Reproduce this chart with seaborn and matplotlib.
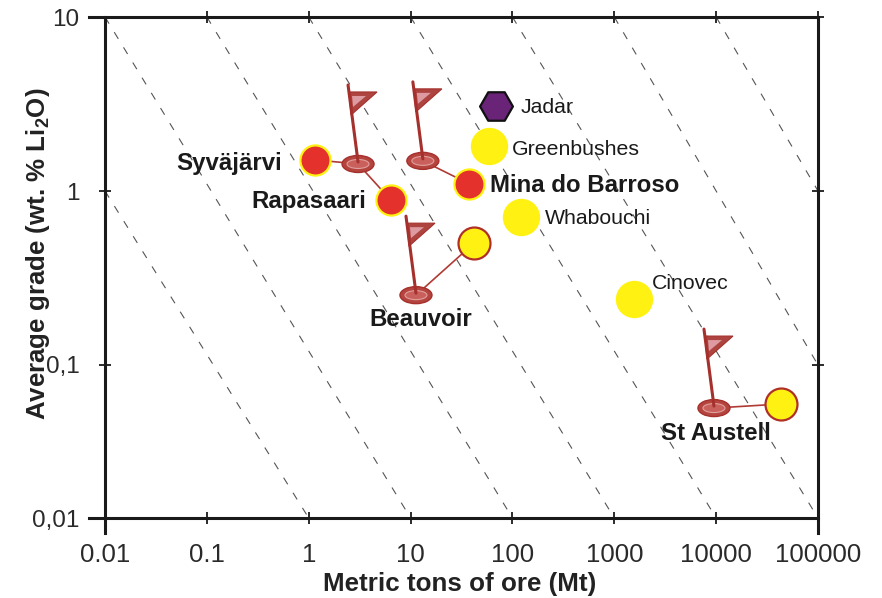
import numpy as np
import pandas as pd
import matplotlib
matplotlib.use('Agg')
import matplotlib.pyplot as plt
from matplotlib.patches import Ellipse, Polygon
from matplotlib.transforms import Affine2D, ScaledTranslation
import seaborn as sns

sns.set_style('white')
plt.rcParams['font.family'] = ['Liberation Sans', 'DejaVu Sans']
plt.rcParams['mathtext.fontset'] = 'custom'
plt.rcParams['mathtext.bf'] = 'Liberation Sans:bold'

# deposits
names = ['Jadar', 'Greenbushes', 'Whabouchi', 'Cinovec', 'Syväjärvi', 'Rapasaari',
         'Mina do Barroso', 'Beauvoir', 'St Austell']
tons = [69, 59, 121, 1560, 1.15, 6.4, 37.5, 42, 43300]
grade = [3.08, 1.81, 0.709, 0.239, 1.51, 0.887, 1.10, 0.502, 0.0556]
kind = ['hex', 'yellow', 'yellow', 'yellow', 'red', 'red', 'red', 'ringed', 'ringed']

# flags: base position and which deposits it points at
flag_tons = [3.05, 13.2, 11.3, 9520]
flag_grade = [1.43, 1.49, 0.252, 0.0523]
flag_links = [['Syväjärvi', 'Rapasaari'], ['Mina do Barroso'], ['Beauvoir'], ['St Austell']]

# dashed lines of equal metal content
guide_x0 = [0.01, 0.01, 0.1, 1, 10, 100, 1000, 10000]
guide_y0 = [1, 10, 10, 10, 10, 10, 10, 10]
guide_x1 = [1, 10, 100, 1000, 10000, 100000, 100000, 100000]
guide_y1 = [0.01, 0.01, 0.01, 0.01, 0.01, 0.01, 0.1, 1]

xticks = [0.01, 0.1, 1, 10, 100, 1000, 10000, 100000]
xticklabels = ['0.01', '0.1', '1', '10', '100', '1000', '10000', '100000']
yticks = [0.01, 0.1, 1, 10]
yticklabels = ['0,01', '0,1', '1', '10']

df = pd.DataFrame({'name': names, 'tons': tons, 'grade': grade, 'kind': kind})
guides = pd.DataFrame({
    'x': guide_x0 + guide_x1,
    'y': guide_y0 + guide_y1,
    'line': list(range(len(guide_x0))) * 2,
})

# the lowest decade of the y axis is drawn shorter than the others in the original
low_k = 153 / 174


def y_fwd(y):
    t = np.log10(np.maximum(y, 1e-12))
    return np.where(t < -1, -1 + (t + 1) * low_k, t)


def y_inv(v):
    v = np.asarray(v, dtype=float)
    return np.where(v < -1, 10 ** (-1 + (v + 1) / low_k), 10 ** v)


fig = plt.figure(figsize=(8.82, 5.98), dpi=100)
ax = fig.add_axes([105 / 882, 1 - 518 / 598, 713 / 882, 501 / 598])
ax.set_xscale('log')
ax.set_yscale('function', functions=(y_fwd, y_inv))
ax.set_xlim(0.01, 100000)
ax.set_ylim(0.01, 10)

sns.lineplot(data=guides, x='x', y='y', units='line', estimator=None, color='#555555',
             lw=0.8, ax=ax, legend=False, zorder=1, sort=False)
for ln in ax.lines:
    ln.set_dashes((7, 9))


def px(x, y):
    # shape offsets are in screen pixels (y down) from a data anchor
    return Affine2D().scale(1, -1) + ScaledTranslation(x, y, ax.transData)


dark = '#a5302c'
by_name = df.set_index('name')
for fx, fy, links in zip(flag_tons, flag_grade, flag_links):
    for link in links:
        ax.plot([fx, by_name.loc[link, 'tons']], [fy, by_name.loc[link, 'grade']],
                color='#b03a34', lw=1.2, zorder=3)
    t = px(fx, fy)
    ax.add_patch(Ellipse((0, 0), 32, 17, transform=t, fc='#b5443f', ec='#a5302c', lw=1, zorder=4))
    ax.add_patch(Ellipse((0, 0), 22, 9, transform=t, fc='#c9605c', ec='#e0a09c', lw=0.8, zorder=4))
    ax.plot([0, -10], [-2, -79], transform=t, color=dark, lw=2.2, zorder=5, solid_capstyle='round')
    ax.add_patch(Polygon([(-9, -72), (19, -72), (-7, -49)], transform=t, fc='#ad4440', ec=dark,
                         lw=0.8, zorder=4, joinstyle='miter'))
    ax.add_patch(Polygon([(-6, -68), (8, -68), (-5, -57)], transform=t, fc='#dd9aa0', ec='none',
                         zorder=4))

sizes = {'hex': 560, 'yellow': 640, 'red': 470, 'ringed': 530}
faces = {'hex': '#6a2477', 'yellow': '#fff212', 'red': '#e5312b', 'ringed': '#fff212'}
edges = {'hex': '#111111', 'yellow': '#fff212', 'red': '#fff212', 'ringed': '#b03028'}
for k in ['yellow', 'red', 'ringed', 'hex']:
    sub = df[df['kind'] == k]
    sns.scatterplot(data=sub, x='tons', y='grade', ax=ax, s=sizes[k], color=faces[k],
                    edgecolor=edges[k], linewidth=1.6, marker='H' if k == 'hex' else 'o',
                    zorder=6, legend=False, clip_on=False)

# label offsets in pixels from each point
label_dx = [25, 23, 24, 18, -139, -139, 21, -105, -120]
label_dy = [2, 3, 2, -16, 4, 1, 2, 76, 29]
label_bold = [False, False, False, False, True, True, True, True, True]
for i, n in enumerate(names):
    ax.annotate(n, (tons[i], grade[i]), xytext=(label_dx[i], -label_dy[i]), textcoords='offset pixels',
                ha='left', va='center', fontsize=17.3 if label_bold[i] else 15.3,
                fontweight='bold' if label_bold[i] else 'normal',
                color='#1a1a1a', zorder=7)

ax.set_xticks(xticks)
ax.set_xticklabels(xticklabels)
ax.set_yticks(yticks)
ax.set_yticklabels(yticklabels)
ax.minorticks_off()
ax.tick_params(axis='both', which='major', direction='inout', length=8.6, width=1.3,
               color='#1a1a1a', labelcolor='#2a2a2a',
               top=True, right=True, bottom=True, left=True)
ax.tick_params(axis='x', pad=14, labelsize=18.5)
ax.tick_params(axis='y', pad=14, labelsize=17.5)
# no tick sticking out at the two outer corners
ax.xaxis.get_major_ticks()[0].tick2line.set_visible(False)
ax.yaxis.get_major_ticks()[0].tick2line.set_visible(False)
for s in ax.spines.values():
    s.set_visible(True)
    s.set_linewidth(2.2)
    s.set_color('#1a1a1a')
# frame lines run on past the corners like in the original
ax.spines['top'].set_bounds(10 ** -2.157, 100000)
ax.spines['bottom'].set_bounds(10 ** -2.157, 100000)
ax.spines['left'].set_bounds(10 ** -2.098, 10)
ax.spines['right'].set_bounds(10 ** -2.098, 10)

ax.set_xlabel('Metric tons of ore (Mt)', fontsize=18.7, fontweight='bold', color='#222222',
              ha='center', va='center')
ax.set_ylabel(r'Average grade (wt. % Li$_\mathbf{2}$O)', fontsize=18.6, fontweight='bold',
              color='#222222', ha='center', va='center')
ax.xaxis.set_label_coords(0.498, -0.131)
ax.yaxis.set_label_coords(-0.094, 0.527)

fig.savefig('out.png', dpi=100)
